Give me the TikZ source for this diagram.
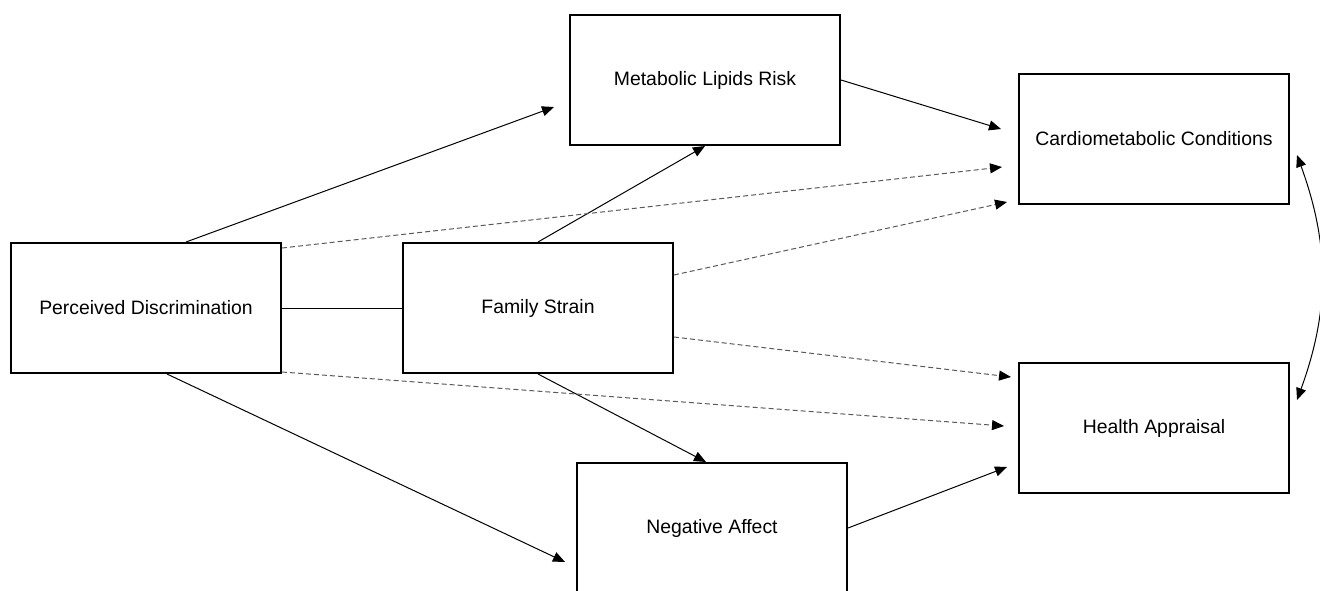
\documentclass[tikz,border=0pt]{standalone}
\usepackage{fontspec}
\setmainfont{Liberation Sans}
\usetikzlibrary{arrows.meta}
\definecolor{dashgray}{gray}{.35}
\newcommand{\widthbox}{135pt}
\newcommand{\heightbox}{65pt}
\tikzset{
    common/.style={draw, rectangle, line width=1pt, font=\fontsize{9.7}{12}\selectfont},
    box/.style={common, minimum width=\widthbox, minimum height=\heightbox},
    path/.style={line width=0.5pt, -{Triangle[length=6pt,width=5pt,black]}},
    dpath/.style={path, dashgray, dash pattern=on 2.5pt off 1.5pt}
}
\begin{document}
\begin{tikzpicture}[x=0.5pt, y=-0.5pt]
            \useasboundingbox (0,0) rectangle (1320,590);

            \path
                (146,308) node[box] (pd) {Perceived Discrimination}
                to ++(392,0) node[box] (fs) {Family Strain};

            \path
                (705,80) node[box] (mlr) {Metabolic Lipids Risk}
                (712,528) node[box] (na) {Negative Affect}
                (1154,139) node[box] (cc) {Cardiometabolic Conditions}
                (1154,428) node[box] (ha) {Health Appraisal};

            \draw[line width=0.5pt] (pd.east) -- (fs.west);

            \draw[path] ([xshift=20pt]pd.north) -- ([xshift=-7.5pt,yshift=-13.5pt]mlr.west);
            \draw[path] (fs.north) -- (mlr.south);
            \draw[path] (mlr.east) -- ([xshift=-8.5pt,yshift=5pt]cc.west);
            \draw[path] ([xshift=10.5pt]pd.south) -- ([xshift=-5.5pt,yshift=-17pt]na.west);
            \draw[path] (fs.south) -- ([xshift=-3pt]na.north);
            \draw[path] (na.east) -- ([xshift=-5.5pt,yshift=-19.5pt]ha.west);

            \draw[dpath] ([yshift=-3pt]pd.north east) -- ([xshift=-8pt,yshift=-14pt]cc.west);
            \draw[dpath] ([yshift=16.5pt]fs.east) -- ([xshift=-5.5pt,yshift=-31.5pt]cc.west);
            \draw[dpath] ([yshift=-14.5pt]fs.east) -- ([xshift=-3.5pt,yshift=25.5pt]ha.west);
            \draw[dpath] ([yshift=1pt]pd.south east) -- ([xshift=-7pt,yshift=1pt]ha.west);

            \draw[path, {Triangle[length=6pt,width=5pt]}-{Triangle[length=6pt,width=5pt]}]
                ([xshift=3.5pt,yshift=-8pt]cc.east) to[bend left=20] ([xshift=3.5pt,yshift=14pt]ha.east);
        \end{tikzpicture}
\end{document}
